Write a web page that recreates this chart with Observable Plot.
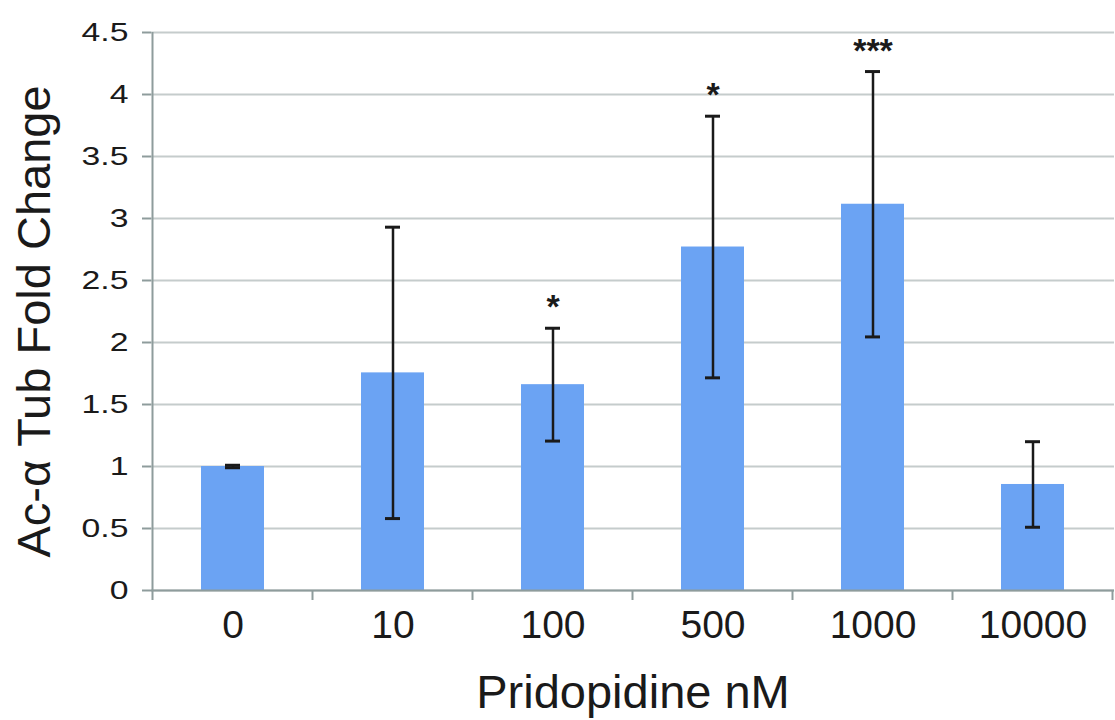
<!DOCTYPE html>
<html>
<head>
<meta charset="utf-8">
<script src="https://cdn.jsdelivr.net/npm/d3@7"></script>
<script src="https://cdn.jsdelivr.net/npm/@observablehq/plot@0.6"></script>
<style>
  body { margin: 0; background: #fff; }
  #chart svg { display: block; }
</style>
</head>
<body>
<div id="chart"></div>
<script>
// Pridopidine dose (nM) and acetylated α-tubulin fold change (mean ± error)
const doses = ["0", "10", "100", "500", "1000", "10000"];
const meanFold = [1.0, 1.755, 1.66, 2.77, 3.115, 0.855];
const errFold = [0.01, 1.175, 0.455, 1.055, 1.07, 0.345];
const significance = ["", "", "*", "*", "***", ""];
const yTicks = [0, 0.5, 1, 1.5, 2, 2.5, 3, 3.5, 4, 4.5];

const rows = doses.map((dose, i) => ({
  dose,
  mean: meanFold[i],
  lo: meanFold[i] - errFold[i],
  hi: meanFold[i] + errFold[i],
  sig: significance[i]
}));

const font = "'Liberation Sans', Arial, sans-serif";
const axisGray = "#8e9c9c";
const ink = "#1a1a1a";

const chart = Plot.plot({
  width: 1115,
  height: 720,
  marginTop: 32,
  marginBottom: 130,
  marginLeft: 151,
  marginRight: 1,
  style: { fontFamily: font, background: "#fff", color: ink, overflow: "visible" },
  x: { domain: doses, paddingInner: 0.607, paddingOuter: 0.3035 },
  y: { domain: [0, 4.5] },
  marks: [
    Plot.gridY(yTicks, { stroke: "#c5cccc", strokeOpacity: 1, strokeWidth: 2 }),
    Plot.barY(rows, { x: "dose", y: "mean", fill: "#6ba3f3" }),
    Plot.ruleX(rows, { x: "dose", y1: "lo", y2: "hi", stroke: ink, strokeWidth: 2.5 }),
    Plot.tickY(rows, { x: "dose", y: "lo", stroke: ink, strokeWidth: 3, insetLeft: 24, insetRight: 24 }),
    Plot.tickY(rows, { x: "dose", y: "hi", stroke: ink, strokeWidth: 3, insetLeft: 24, insetRight: 24 }),
    Plot.text(rows.filter(d => d.sig), {
      x: "dose", y: "hi", text: "sig", dy: -10, fontSize: 34, fontWeight: "bold",
      lineAnchor: "bottom", fill: ink
    }),
    Plot.ruleY([0], { stroke: axisGray, strokeWidth: 2 }),
    Plot.axisY(yTicks, {
      tickSize: 9, tickPadding: 14, fontSize: 25, stroke: axisGray, strokeWidth: 2,
      fill: ink, label: null, tickFormat: d => String(d)
    }),
    Plot.axisX({ tickSize: 0, tickPadding: 20, fontSize: 39, fill: ink, label: null }),
    Plot.text(["Ac-α Tub Fold Change"], {
      frameAnchor: "left", textAnchor: "middle", rotate: -90, dx: -117, dy: 10,
      fontSize: 47, lineAnchor: "middle", fill: ink
    }),
    Plot.text(["Pridopidine nM"], {
      frameAnchor: "bottom", dy: 117, fontSize: 47, lineAnchor: "bottom", fill: ink
    })
  ]
});

// Y axis line and category-boundary ticks, placed from the chart's own scales
const svg = d3.select(chart);
const xs = chart.scale("x");
const ys = chart.scale("y");
const y0 = ys.apply(0);
const yTop = ys.apply(4.5);
const half = (xs.step - xs.bandwidth) / 2;
const bounds = doses.map(d => xs.apply(d) - half);
bounds.push(xs.apply(doses[doses.length - 1]) + xs.bandwidth + half);

const g = svg.append("g").attr("stroke", axisGray).attr("stroke-width", 2);
g.append("line").attr("x1", bounds[0]).attr("x2", bounds[0]).attr("y1", yTop).attr("y2", y0 + 10);
g.selectAll("line.bt").data(bounds.slice(1)).join("line")
  .attr("class", "bt")
  .attr("x1", d => d).attr("x2", d => d)
  .attr("y1", y0).attr("y2", y0 + 10);

// The value labels on the y axis are set in a wide face
svg.selectAll('g[aria-label="y-axis tick label"] text').each(function () {
  const t = this.getAttribute("transform") || "";
  this.setAttribute("transform", t + " scale(1.35,1)");
});

document.getElementById("chart").append(chart);
</script>
</body>
</html>
